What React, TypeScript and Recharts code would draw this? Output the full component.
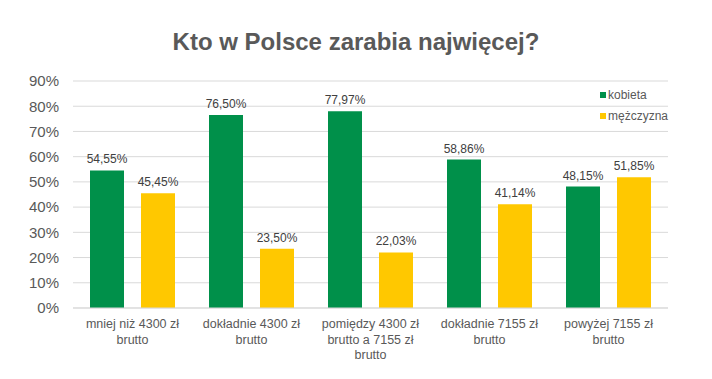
import React from "react";
import { Bar, BarChart, CartesianGrid, LabelList, XAxis, YAxis } from "recharts";

const categories = [
  "mniej niż 4300 zł\nbrutto",
  "dokładnie 4300 zł\nbrutto",
  "pomiędzy 4300 zł\nbrutto a 7155 zł\nbrutto",
  "dokładnie 7155 zł\nbrutto",
  "powyżej 7155 zł\nbrutto",
];
const kobieta = [54.55, 76.5, 77.97, 58.86, 48.15];
const mezczyzna = [45.45, 23.5, 22.03, 41.14, 51.85];
const yTicks = [0, 10, 20, 30, 40, 50, 60, 70, 80, 90];

const series = [
  { key: "kobieta", label: "kobieta", color: "#00904A" },
  { key: "mezczyzna", label: "mężczyzna", color: "#FFC800" },
];

const data = categories.map((name, i) => ({ name, kobieta: kobieta[i], mezczyzna: mezczyzna[i] }));

const FONT = "'Liberation Sans', Arial, sans-serif";
const TEXT = "#595959";

const fmt = (v: number) => v.toFixed(2).replace(".", ",") + "%";

function CategoryTick(props: any) {
  const { x, y, payload } = props;
  const lines = String(payload.value).split("\n");
  return (
    <text x={x} y={y} textAnchor="middle" fill={TEXT} fontSize={12.5} fontFamily={FONT}>
      {lines.map((line, i) => (
        <tspan key={i} x={x} dy={i === 0 ? 12 : 15.5}>
          {line}
        </tspan>
      ))}
    </text>
  );
}

function LegendBox() {
  return (
    <div
      style={{
        position: "absolute",
        left: 600,
        top: 84.5,
        fontFamily: FONT,
        fontSize: 12,
        color: TEXT,
      }}
    >
      {series.map((s) => (
        <div key={s.key} style={{ display: "flex", alignItems: "center", height: 21 }}>
          <span style={{ width: 6, height: 6, background: s.color, marginRight: 2 }} />
          <span>{s.label}</span>
        </div>
      ))}
    </div>
  );
}

export default function App() {
  return (
    <div style={{ position: "absolute", left: 0, top: 0, width: 712, height: 379, background: "#fff" }}>
      <div
        style={{
          position: "absolute",
          left: 0,
          top: 26,
          width: 712,
          textAlign: "center",
          fontFamily: FONT,
          fontWeight: "bold",
          fontSize: 24,
          color: TEXT,
          lineHeight: "32px",
        }}
      >
        Kto w Polsce zarabia najwięcej?
      </div>
      <BarChart
        width={712}
        height={379}
        data={data}
        margin={{ top: 81, right: 44, bottom: 0, left: 0 }}
        barCategoryGap={17}
        barGap={17}
        style={{ position: "absolute", left: 0, top: 0 }}
      >
        <CartesianGrid vertical={false} stroke="#D9D9D9" />
        <XAxis
          dataKey="name"
          interval={0}
          tickLine={false}
          axisLine={{ stroke: "#D9D9D9" }}
          tick={<CategoryTick />}
          height={71}
        />
        <YAxis
          width={73}
          domain={[0, 90]}
          ticks={yTicks}
          interval={0}
          tickFormatter={(v: number) => `${v}%`}
          tickLine={false}
          axisLine={false}
          tickMargin={8}
          tick={{ fill: TEXT, fontSize: 15, fontFamily: FONT }}
        />
        {series.map((s) => (
          <Bar key={s.key} dataKey={s.key} name={s.label} fill={s.color} barSize={34} isAnimationActive={false}>
            <LabelList
              dataKey={s.key}
              position="top"
              offset={7}
              formatter={(v: any) => fmt(Number(v))}
              style={{ fill: "#404040", fontSize: 12, fontFamily: FONT }}
            />
          </Bar>
        ))}
      </BarChart>
      <LegendBox />
    </div>
  );
}
